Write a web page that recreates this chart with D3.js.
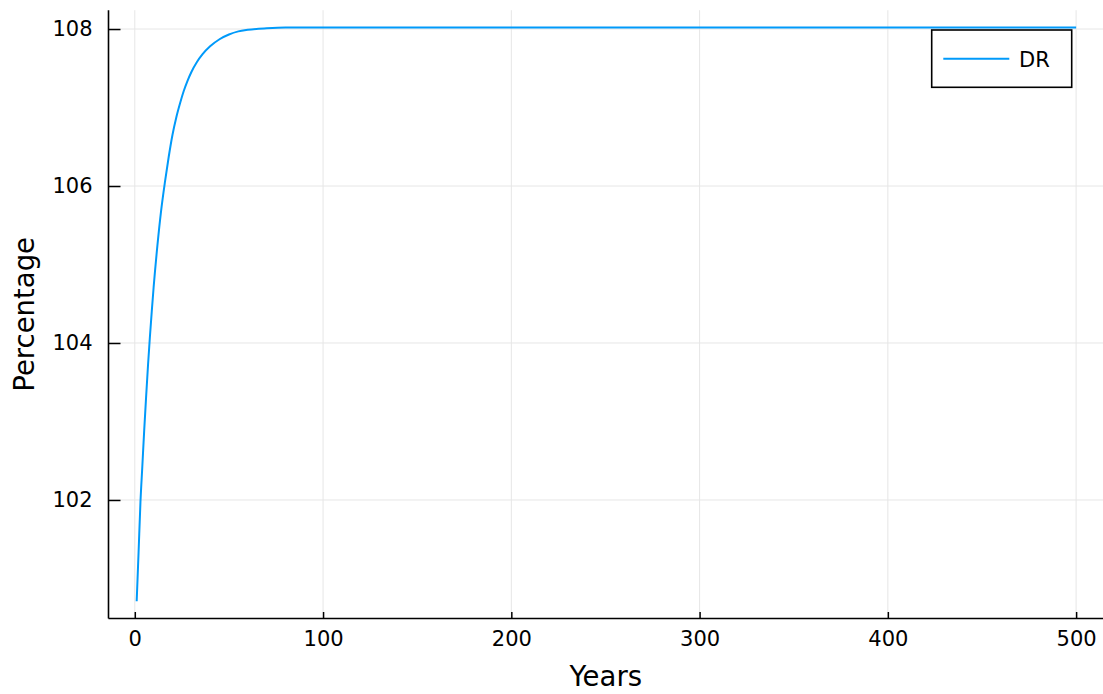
<!DOCTYPE html>
<html>
<head>
<meta charset="utf-8">
<script src="https://cdn.jsdelivr.net/npm/d3@7"></script>
<style>
  html, body { margin: 0; padding: 0; background: #fff; }
  svg { display: block; }
  text { font-family: "DejaVu Sans", sans-serif; fill: #000; }
</style>
</head>
<body>
<svg id="chart" width="1103" height="694"></svg>
<script>
// Data
const years = [1, 2, 3, 4, 5, 6, 7, 8, 9, 10, 12, 14, 16, 18, 20, 22, 24, 26, 28, 30, 33, 36, 40, 45, 50, 55, 60, 70, 80, 90, 100, 500];
const drValues = [100.71, 101.33, 101.97, 102.43, 102.89, 103.31, 103.71, 104.07, 104.40, 104.71, 105.24, 105.69, 106.05, 106.37, 106.65, 106.87, 107.05, 107.21, 107.34, 107.45, 107.58, 107.68, 107.78, 107.87, 107.93, 107.97, 107.99, 108.01, 108.02, 108.02, 108.02, 108.02];
const xTicks = [0, 100, 200, 300, 400, 500];
const yTicks = [102, 104, 106, 108];
const seriesName = "DR";
const xTitle = "Years";
const yTitle = "Percentage";

(function () {
const W = 1103, H = 694;
const pL = 108.5, pR = 1104.3, pT = 10.2, pB = 618.5;

const svg = d3.select("#chart");

const x = d3.scaleLinear().domain([-13.97, 514.97]).range([pL, pR]);
const y = d3.scaleLinear().domain([100.49, 108.24]).range([pB, pT]);

// grid
const grid = svg.append("g");
grid.selectAll("line.vx").data(xTicks).enter().append("line")
  .attr("x1", d => x(d)).attr("x2", d => x(d))
  .attr("y1", pT).attr("y2", pB)
  .attr("stroke", "#e6e6e6").attr("stroke-width", 1);
grid.selectAll("line.hy").data(yTicks).enter().append("line")
  .attr("x1", pL).attr("x2", W)
  .attr("y1", d => y(d)).attr("y2", d => y(d))
  .attr("stroke", "#e6e6e6").attr("stroke-width", 1);

// series line
const data = years.map((t, i) => ({t, v: drValues[i]}));
svg.append("path")
  .datum(data)
  .attr("fill", "none")
  .attr("stroke", "#009AFA")
  .attr("stroke-width", 2)
  .attr("stroke-linejoin", "round")
  .attr("d", d3.line().x(d => x(d.t)).y(d => y(d.v)).curve(d3.curveMonotoneX));

// x axis
const xAxis = d3.axisBottom(x).tickValues(xTicks).tickSize(-6.5).tickPadding(13).tickFormat(d3.format("d"));
const gx = svg.append("g").attr("transform", `translate(0,${pB})`).call(xAxis);
gx.select(".domain").attr("d", `M${pL},0H${W}`).attr("stroke", "#000").attr("stroke-width", 1.6);
gx.selectAll(".tick line").attr("stroke", "#000").attr("stroke-width", 1.5);
gx.selectAll(".tick text").attr("font-size", 21).attr("font-family", "DejaVu Sans").attr("fill", "#000");

// y axis
const yAxis = d3.axisLeft(y).tickValues(yTicks).tickSize(-12).tickPadding(16).tickFormat(d3.format("d"));
const gy = svg.append("g").attr("transform", `translate(${pL},0)`).call(yAxis);
gy.select(".domain").attr("d", `M0,${pT}V${pB}`).attr("stroke", "#000").attr("stroke-width", 1.6);
gy.selectAll(".tick line").attr("stroke", "#000").attr("stroke-width", 1.5);
gy.selectAll(".tick text").attr("font-size", 21).attr("font-family", "DejaVu Sans").attr("fill", "#000");

// axis titles
svg.append("text")
  .attr("x", (pL + W) / 2).attr("y", 685.5)
  .attr("text-anchor", "middle")
  .attr("font-size", 27.5)
  .text(xTitle);
svg.append("text")
  .attr("transform", `translate(33.5,${(pT + pB) / 2}) rotate(-90)`)
  .attr("text-anchor", "middle")
  .attr("font-size", 27.5)
  .text(yTitle);

// legend
const lg = svg.append("g");
lg.append("rect")
  .attr("x", 931.7).attr("y", 30).attr("width", 140).attr("height", 57.3)
  .attr("fill", "#fff").attr("stroke", "#000").attr("stroke-width", 1.6);
lg.append("line")
  .attr("x1", 943.3).attr("x2", 1009.3).attr("y1", 58.7).attr("y2", 58.7)
  .attr("stroke", "#009AFA").attr("stroke-width", 2);
lg.append("text")
  .attr("x", 1019).attr("y", 66.5)
  .attr("font-size", 21)
  .text(seriesName);
})();
</script>
</body>
</html>
